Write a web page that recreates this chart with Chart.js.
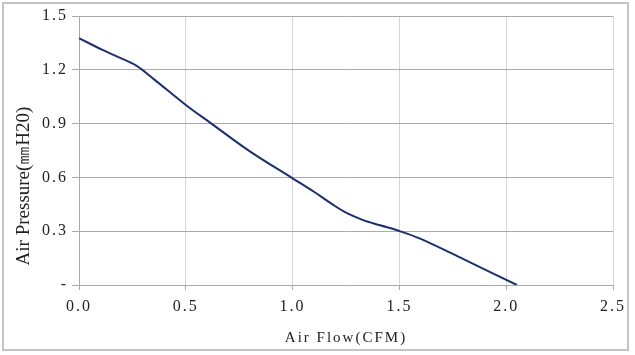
<!DOCTYPE html>
<html><head><meta charset="utf-8">
<script src="https://cdn.jsdelivr.net/npm/chart.js@4/dist/chart.umd.min.js"></script>
<style>html,body{margin:0;padding:0;background:#fff}#wrap{width:635px;height:355px;position:relative}</style>
</head><body><div id="wrap"><canvas id="c" width="635" height="355"></canvas></div>
<script>
const airFlow = [0, 0.11, 0.19, 0.27, 0.35, 0.5, 0.62, 0.8, 1.0, 1.1, 1.18, 1.25, 1.33, 1.41, 1.5, 1.6, 1.8, 2.05];
const airPressure = [1.376, 1.311, 1.268, 1.222, 1.148, 1.004, 0.90, 0.745, 0.595, 0.52, 0.455, 0.403, 0.362, 0.333, 0.301, 0.257, 0.144, 0.0];
const xTicks = [0, 0.5, 1.0, 1.5, 2.0, 2.5];
const yTicks = [0, 0.3, 0.6, 0.9, 1.2, 1.5];
const xTitle = 'Air Flow(CFM)';
const yTitle = 'Air Pressure(㎜H20)';

const frame = {
  id: 'frame',
  beforeDraw(chart) {
    chart.ctx.letterSpacing = '2px';
  },
  afterDraw(chart) {
    const ctx = chart.ctx;
    ctx.save();
    ctx.letterSpacing = '0px';
    ctx.strokeStyle = '#c4c4c4';
    ctx.lineWidth = 2;
    ctx.strokeRect(3, 3, 625, 347);
    // y axis title
    ctx.translate(24, 186);
    ctx.rotate(-Math.PI / 2);
    ctx.fillStyle = '#222';
    ctx.font = '19px "Liberation Serif"';
    ctx.textAlign = 'center';
    ctx.textBaseline = 'middle';
    ctx.fillText(yTitle, 0, 0);
    ctx.restore();
  }
};

new Chart(document.getElementById('c'), {
  type: 'scatter',
  data: {
    datasets: [{
      data: airFlow.map((x, i) => ({x, y: airPressure[i]})),
      showLine: true,
      borderColor: '#1c2f6e',
      borderWidth: 2,
      pointRadius: 0,
      tension: 0.35,
      fill: false
    }]
  },
  options: {
    responsive: false,
    animation: false,
    devicePixelRatio: 1,
    layout: {padding: {top: 16, right: 22, bottom: 8, left: 8}},
    plugins: {legend: {display: false}, tooltip: {enabled: false}},
    scales: {
      x: {
        type: 'linear', min: 0, max: 2.5,
        afterBuildTicks: s => { s.ticks = xTicks.map(v => ({value: v})); },
        afterFit: s => { s.height = 355 - 285 - 8; },
        ticks: {
          color: '#222', font: {family: 'Liberation Serif', size: 16}, padding: 7,
          maxRotation: 0, autoSkip: false,
          callback: v => v.toFixed(1)
        },
        grid: {color: '#d6d6d6', lineWidth: 1, tickLength: 5, tickColor: '#aaaaaa'},
        border: {color: '#aaaaaa'},
        title: {display: true, text: xTitle, color: '#222', font: {family: 'Liberation Serif', size: 15}, padding: {top: 4, bottom: 0}}
      },
      y: {
        type: 'linear', min: 0, max: 1.5,
        afterBuildTicks: s => { s.ticks = yTicks.map(v => ({value: v})); },
        afterFit: s => { s.width = 79 - 8; },
        ticks: {
          color: '#222', font: {family: 'Liberation Serif', size: 16}, padding: 4,
          callback: v => v === 0 ? '-' : v.toFixed(1)
        },
        grid: {color: '#aaaaaa', lineWidth: 1, tickLength: 7},
        border: {color: '#aaaaaa'}
      }
    }
  },
  plugins: [frame]
});
</script></body></html>
